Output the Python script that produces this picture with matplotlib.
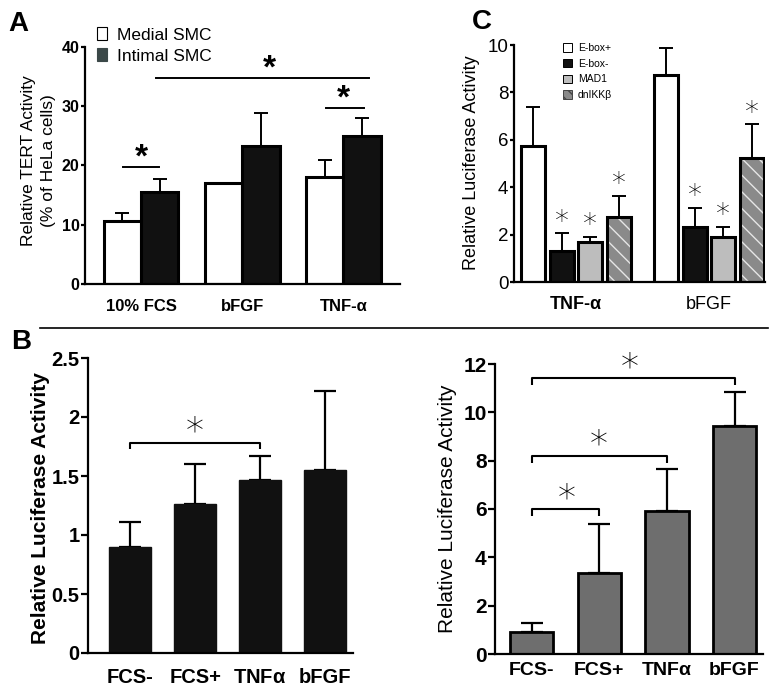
import numpy as np
import matplotlib
matplotlib.use("Agg")
import matplotlib.pyplot as plt
from matplotlib.patches import Patch
from matplotlib.lines import Line2D

plt.rcParams['font.family'] = ['Liberation Sans', 'DejaVu Sans']

# ---- panel A: TERT activity ----
a_groups = ['10% FCS', 'bFGF', 'TNF-α']
a_medial = [10.7, 17.0, 18.1]
a_medial_err = [1.2, 0.0, 2.8]
a_intimal = [15.6, 23.3, 25.0]
a_intimal_err = [2.1, 5.5, 3.0]
a_yticks = [0, 10, 20, 30, 40]

# ---- panel C: luciferase with constructs ----
c_groups = ['TNF-α', 'bFGF']
c_series = ['E-box+', 'E-box-', 'MAD1', 'dnIKKβ']
c_values = [[5.74, 8.73], [1.32, 2.31], [1.67, 1.89], [2.73, 5.24]]
c_errs = [[1.63, 1.16], [0.73, 0.83], [0.24, 0.44], [0.91, 1.41]]
c_yticks = [0, 2, 4, 6, 8, 10]

# ---- panel B ----
b_groups = ['FCS-', 'FCS+', r'TNF$\mathregular{\alpha}$', 'bFGF']
bl_values = [0.90, 1.26, 1.47, 1.55]
bl_errs = [0.21, 0.34, 0.20, 0.67]
bl_yticks = [0, 0.5, 1, 1.5, 2, 2.5]
bl_yticklabels = ['0', '0.5', '1', '1.5', '2', '2.5']

br_values = [0.92, 3.35, 5.90, 9.45]
br_errs = [0.36, 2.03, 1.75, 1.40]
br_yticks = [0, 2, 4, 6, 8, 10, 12]

W, H = 781, 691
fig = plt.figure(figsize=(W / 100, H / 100), dpi=100)


def px_axes(x0, x1, ytop, ybot):
    return fig.add_axes([x0 / W, 1 - ybot / H, (x1 - x0) / W, (ybot - ytop) / H])


def style(ax, lw=1.6, ticklen=3):
    for s in ['top', 'right']:
        ax.spines[s].set_visible(False)
    ax.spines['left'].set_linewidth(lw)
    ax.spines['bottom'].set_linewidth(lw)
    ax.tick_params(axis='y', direction='out', length=ticklen, width=lw, pad=1)
    ax.tick_params(axis='x', length=0)


def upper_err(ax, x, y, e, lw=1.6, cap=6):
    x, y, e = np.asarray(x), np.asarray(y), np.asarray(e)
    m = e > 0
    ax.errorbar(x[m], y[m], yerr=[np.zeros(m.sum()), e[m]], fmt='none',
                ecolor='black', elinewidth=lw, capsize=cap, capthick=lw, zorder=0.5)


def star(ax, x, y, size=20, thin=False):
    if thin:
        ax.text(x, y, '*', ha='center', va='center', fontsize=size,
                family='DejaVu Sans', fontweight='light')
    else:
        ax.text(x, y, '*', ha='center', va='center', fontsize=size, fontweight='bold')


def bracket(ax, x0, x1, y, drop, lw=1.5):
    ax.plot([x0, x0, x1, x1], [y - drop, y, y, y - drop], color='black', lw=lw,
            solid_capstyle='butt', clip_on=False)


# ================= Panel A =================
axA = px_axes(85, 400, 47, 284)
style(axA, lw=1.6, ticklen=3)
xa = np.arange(len(a_groups))
bw = 0.37
axA.bar(xa - bw / 2, a_medial, bw, color='white', edgecolor='black', linewidth=2.2, zorder=1)
axA.bar(xa + bw / 2, a_intimal, bw, color='#111111', edgecolor='black', linewidth=2.2, zorder=1)
upper_err(axA, xa - bw / 2, a_medial, a_medial_err, lw=1.4, cap=5)
upper_err(axA, xa + bw / 2, a_intimal, a_intimal_err, lw=1.4, cap=5)
axA.set_xlim(-0.554, 2.56)
axA.set_ylim(0, 40)
axA.set_yticks(a_yticks)
axA.set_yticklabels([str(t) for t in a_yticks], fontsize=11.5, fontweight='bold')
axA.set_xticks(xa)
axA.set_xticklabels(a_groups, fontsize=12, fontweight='bold')
axA.tick_params(axis='x', pad=11)
axA.set_ylabel('Relative TERT Activity\n(% of HeLa cells)', fontsize=12.5, linespacing=1.45)
axA.yaxis.set_label_coords(-0.092, 0.52)
# significance marks
axA.plot([-0.175, 0.175], [19.7, 19.7], color='black', lw=1.4)
star(axA, 0.0, 21.2, size=24)
axA.plot([0.15, 2.25], [34.8, 34.8], color='black', lw=1.4)
star(axA, 1.27, 36.2, size=24)
axA.plot([1.83, 2.2], [29.7, 29.7], color='black', lw=1.4)
star(axA, 2.0, 31.2, size=24)
axA.legend(handles=[Patch(facecolor='white', edgecolor='black', linewidth=0.8),
                    Patch(facecolor='#3b4848', edgecolor='#3b4848', linewidth=0.8)],
           labels=['Medial SMC', 'Intimal SMC'], loc='upper left',
           bbox_to_anchor=(97 / W, 1 - 27 / H), bbox_transform=fig.transFigure,
           frameon=False, fontsize=12.5, handlelength=0.6, handleheight=0.8,
           handletextpad=0.55, labelspacing=0.3, borderpad=0, borderaxespad=0)

# ================= Panel C =================
axC = px_axes(514, 765, 45, 282)
style(axC, lw=1.6, ticklen=3)
xc = np.arange(len(c_groups))
cw = 0.18
step = 0.214
c_face = ['white', '#111111', '#bdbdbd', '#8a8a8a']
for i, (vals, errs) in enumerate(zip(c_values, c_errs)):
    xs = xc + (i - 1.5) * step
    if i == 3:
        axC.bar(xs, vals, cw, color=c_face[i], edgecolor='#e6e6e6', hatch='\\\\',
                linewidth=0, zorder=1)
        axC.bar(xs, vals, cw, fill=False, edgecolor='black', linewidth=2.2, zorder=1.1)
    else:
        axC.bar(xs, vals, cw, color=c_face[i], edgecolor='black', linewidth=2.2, zorder=1)
    upper_err(axC, xs, vals, errs, lw=1.4, cap=5)
    if i > 0:
        for x, v, e in zip(xs, vals, errs):
            star(axC, x, v + e + 0.5, size=20, thin=True)
axC.set_xlim(-0.466, 1.421)
axC.set_ylim(0, 10)
axC.set_yticks(c_yticks)
axC.set_yticklabels([str(t) for t in c_yticks], fontsize=13.5)
axC.set_xticks(xc)
axC.set_xticklabels([r'TNF-$\mathregular{\alpha}$', 'bFGF'], fontsize=13)
axC.get_xticklabels()[0].set_fontweight('bold')
axC.tick_params(axis='x', pad=10)
axC.set_ylabel('Relative Luciferase Activity', fontsize=13)
axC.yaxis.set_label_coords(-0.135, 0.505)
c_handles = [Patch(facecolor=c_face[0], edgecolor='black', linewidth=0.7),
             Patch(facecolor=c_face[1], edgecolor='black', linewidth=0.7),
             Patch(facecolor=c_face[2], edgecolor='black', linewidth=0.7),
             Patch(facecolor=c_face[3], edgecolor='#444444', hatch='\\\\\\', linewidth=0.7)]
axC.legend(handles=c_handles, labels=c_series, loc='upper left',
           bbox_to_anchor=(563 / W, 1 - 43 / H), bbox_transform=fig.transFigure,
           frameon=False, fontsize=7.5, handlelength=0.85, handleheight=0.9,
           handletextpad=0.6, labelspacing=0.55, borderpad=0, borderaxespad=0)

# ================= divider =================
fig.add_artist(Line2D([40 / W, 768 / W], [1 - 328 / H, 1 - 328 / H], color='black', lw=1.2))

# ================= Panel B left =================
axBL = px_axes(88, 353, 358, 653)
style(axBL, lw=1.6, ticklen=5)
xb = np.arange(len(b_groups))
axBL.bar(xb, bl_values, 0.65, color='#111111', edgecolor='#111111', linewidth=1.0, zorder=1)
upper_err(axBL, xb, bl_values, bl_errs, lw=1.6, cap=8)
axBL.set_xlim(-0.65, 3.43)
axBL.set_ylim(0, 2.5)
axBL.set_yticks(bl_yticks)
axBL.set_yticklabels(bl_yticklabels, fontsize=14.5, fontweight='bold')
axBL.set_xticks(xb)
axBL.set_xticklabels(b_groups, fontsize=14.5, fontweight='bold')
axBL.tick_params(axis='x', pad=11)
axBL.set_ylabel('Relative Luciferase Activity', fontsize=15, fontweight='bold')
axBL.yaxis.set_label_coords(-0.143, 0.49)
bracket(axBL, 0, 2, 1.78, 0.05)
star(axBL, 1.0, 1.88, size=26, thin=True)

# ================= Panel B right =================
axBR = px_axes(495, 763, 364, 654)
style(axBR, lw=1.6, ticklen=5)
axBR.bar(xb, br_values, 0.64, color='#6e6e6e', edgecolor='black', linewidth=2.0, zorder=1)
upper_err(axBR, xb, br_values, br_errs, lw=1.6, cap=8)
axBR.set_xlim(-0.54, 3.42)
axBR.set_ylim(0, 12)
axBR.set_yticks(br_yticks)
axBR.set_yticklabels([str(t) for t in br_yticks], fontsize=15, fontweight='bold')
axBR.set_xticks(xb)
axBR.set_xticklabels(b_groups, fontsize=14, fontweight='bold')
axBR.tick_params(axis='x', pad=6)
axBR.set_ylabel('Relative Luciferase Activity', fontsize=15)
axBR.yaxis.set_label_coords(-0.142, 0.5)
bracket(axBR, 0, 3, 11.42, 0.3)
star(axBR, 1.45, 11.85, size=26, thin=True)
bracket(axBR, 0, 2, 8.2, 0.3)
star(axBR, 1.0, 8.65, size=26, thin=True)
bracket(axBR, 0, 1, 6.0, 0.3)
star(axBR, 0.52, 6.45, size=26, thin=True)

# panel letters
fig.text(18 / W, 1 - 24 / H, 'A', fontsize=20, fontweight='bold', ha='center', va='center')
fig.text(482 / W, 1 - 22 / H, 'C', fontsize=20, fontweight='bold', ha='center', va='center')
fig.text(21 / W, 1 - 342 / H, 'B', fontsize=20, fontweight='bold', ha='center', va='center')

fig.savefig('out.png', dpi=100)
